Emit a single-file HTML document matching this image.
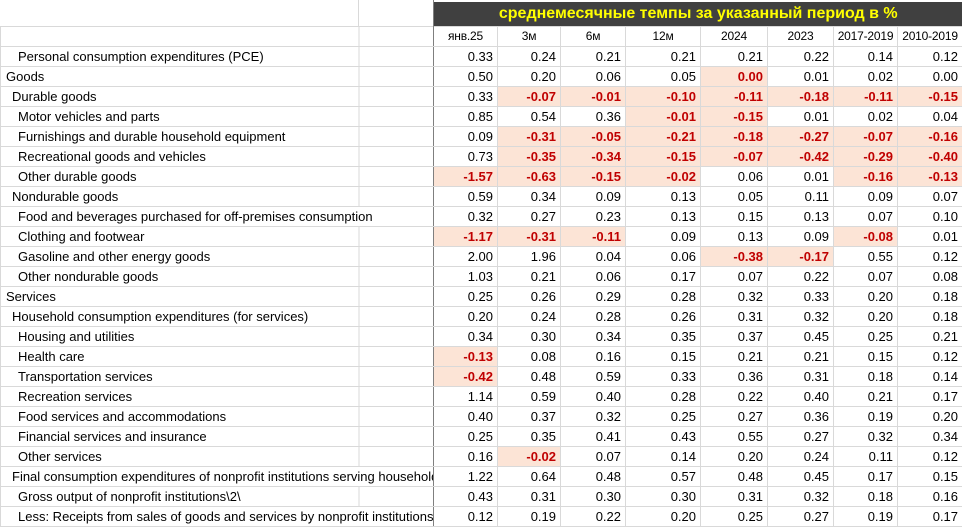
<!DOCTYPE html>
<html><head><meta charset="utf-8"><style>
body{margin:0;width:962px;height:529px;overflow:hidden;background:#fff;font-family:"Liberation Sans",sans-serif;font-size:13px;color:#000}
table{border-collapse:collapse;table-layout:fixed;position:absolute;left:0;top:0;width:962px}
td{height:19px;padding:0 4px;border:1px solid #d9d9d9;white-space:nowrap;overflow:hidden;text-align:right;line-height:19px}
td.l{text-align:left;padding:0;border-right:1px solid #7f7f7f;max-width:433px}
td.l.g{background:linear-gradient(to right,transparent 357px,#d9d9d9 357px,#d9d9d9 358px,transparent 358px)}
tr.h1 td{height:26px;border:none}
tr.h1 td.t{background:#404040;color:#ffff00;font-weight:bold;font-size:16px;text-align:center;box-shadow:inset 0 2px 0 #fff;overflow:visible}
tr.h2 td{text-align:center;padding:0;font-size:12px;letter-spacing:-0.2px}
td.p{background:#fce4d6;color:#c00000;font-weight:bold}
</style></head><body>
<table>
<colgroup><col style="width:433px"><col style="width:64px"><col style="width:63px"><col style="width:65px"><col style="width:75px"><col style="width:67px"><col style="width:66px"><col style="width:64px"><col style="width:65px"></colgroup>
<tr class="h1"><td class="l g" style="border-right:1px solid #7f7f7f"></td><td class="t" colspan="8">среднемесячные темпы за указанный период в %</td></tr>
<tr class="h2"><td class="l g"></td><td>янв.25</td><td>3м</td><td>6м</td><td>12м</td><td>2024</td><td>2023</td><td>2017-2019</td><td>2010-2019</td></tr>
<tr><td class="l g" style="padding-left:17px">Personal consumption expenditures (PCE)</td><td>0.33</td><td>0.24</td><td>0.21</td><td>0.21</td><td>0.21</td><td>0.22</td><td>0.14</td><td>0.12</td></tr>
<tr><td class="l g" style="padding-left:5px">Goods</td><td>0.50</td><td>0.20</td><td>0.06</td><td>0.05</td><td class="p">0.00</td><td>0.01</td><td>0.02</td><td>0.00</td></tr>
<tr><td class="l g" style="padding-left:11px">Durable goods</td><td>0.33</td><td class="p">-0.07</td><td class="p">-0.01</td><td class="p">-0.10</td><td class="p">-0.11</td><td class="p">-0.18</td><td class="p">-0.11</td><td class="p">-0.15</td></tr>
<tr><td class="l g" style="padding-left:17px">Motor vehicles and parts</td><td>0.85</td><td>0.54</td><td>0.36</td><td class="p">-0.01</td><td class="p">-0.15</td><td>0.01</td><td>0.02</td><td>0.04</td></tr>
<tr><td class="l g" style="padding-left:17px">Furnishings and durable household equipment</td><td>0.09</td><td class="p">-0.31</td><td class="p">-0.05</td><td class="p">-0.21</td><td class="p">-0.18</td><td class="p">-0.27</td><td class="p">-0.07</td><td class="p">-0.16</td></tr>
<tr><td class="l g" style="padding-left:17px">Recreational goods and vehicles</td><td>0.73</td><td class="p">-0.35</td><td class="p">-0.34</td><td class="p">-0.15</td><td class="p">-0.07</td><td class="p">-0.42</td><td class="p">-0.29</td><td class="p">-0.40</td></tr>
<tr><td class="l g" style="padding-left:17px">Other durable goods</td><td class="p">-1.57</td><td class="p">-0.63</td><td class="p">-0.15</td><td class="p">-0.02</td><td>0.06</td><td>0.01</td><td class="p">-0.16</td><td class="p">-0.13</td></tr>
<tr><td class="l g" style="padding-left:11px">Nondurable goods</td><td>0.59</td><td>0.34</td><td>0.09</td><td>0.13</td><td>0.05</td><td>0.11</td><td>0.09</td><td>0.07</td></tr>
<tr><td class="l" style="padding-left:17px">Food and beverages purchased for off-premises consumption</td><td>0.32</td><td>0.27</td><td>0.23</td><td>0.13</td><td>0.15</td><td>0.13</td><td>0.07</td><td>0.10</td></tr>
<tr><td class="l g" style="padding-left:17px">Clothing and footwear</td><td class="p">-1.17</td><td class="p">-0.31</td><td class="p">-0.11</td><td>0.09</td><td>0.13</td><td>0.09</td><td class="p">-0.08</td><td>0.01</td></tr>
<tr><td class="l g" style="padding-left:17px">Gasoline and other energy goods</td><td>2.00</td><td>1.96</td><td>0.04</td><td>0.06</td><td class="p">-0.38</td><td class="p">-0.17</td><td>0.55</td><td>0.12</td></tr>
<tr><td class="l g" style="padding-left:17px">Other nondurable goods</td><td>1.03</td><td>0.21</td><td>0.06</td><td>0.17</td><td>0.07</td><td>0.22</td><td>0.07</td><td>0.08</td></tr>
<tr><td class="l g" style="padding-left:5px">Services</td><td>0.25</td><td>0.26</td><td>0.29</td><td>0.28</td><td>0.32</td><td>0.33</td><td>0.20</td><td>0.18</td></tr>
<tr><td class="l g" style="padding-left:11px">Household consumption expenditures (for services)</td><td>0.20</td><td>0.24</td><td>0.28</td><td>0.26</td><td>0.31</td><td>0.32</td><td>0.20</td><td>0.18</td></tr>
<tr><td class="l g" style="padding-left:17px">Housing and utilities</td><td>0.34</td><td>0.30</td><td>0.34</td><td>0.35</td><td>0.37</td><td>0.45</td><td>0.25</td><td>0.21</td></tr>
<tr><td class="l g" style="padding-left:17px">Health care</td><td class="p">-0.13</td><td>0.08</td><td>0.16</td><td>0.15</td><td>0.21</td><td>0.21</td><td>0.15</td><td>0.12</td></tr>
<tr><td class="l g" style="padding-left:17px">Transportation services</td><td class="p">-0.42</td><td>0.48</td><td>0.59</td><td>0.33</td><td>0.36</td><td>0.31</td><td>0.18</td><td>0.14</td></tr>
<tr><td class="l g" style="padding-left:17px">Recreation services</td><td>1.14</td><td>0.59</td><td>0.40</td><td>0.28</td><td>0.22</td><td>0.40</td><td>0.21</td><td>0.17</td></tr>
<tr><td class="l g" style="padding-left:17px">Food services and accommodations</td><td>0.40</td><td>0.37</td><td>0.32</td><td>0.25</td><td>0.27</td><td>0.36</td><td>0.19</td><td>0.20</td></tr>
<tr><td class="l g" style="padding-left:17px">Financial services and insurance</td><td>0.25</td><td>0.35</td><td>0.41</td><td>0.43</td><td>0.55</td><td>0.27</td><td>0.32</td><td>0.34</td></tr>
<tr><td class="l g" style="padding-left:17px">Other services</td><td>0.16</td><td class="p">-0.02</td><td>0.07</td><td>0.14</td><td>0.20</td><td>0.24</td><td>0.11</td><td>0.12</td></tr>
<tr><td class="l" style="padding-left:11px">Final consumption expenditures of nonprofit institutions serving households</td><td>1.22</td><td>0.64</td><td>0.48</td><td>0.57</td><td>0.48</td><td>0.45</td><td>0.17</td><td>0.15</td></tr>
<tr><td class="l g" style="padding-left:17px">Gross output of nonprofit institutions\2\</td><td>0.43</td><td>0.31</td><td>0.30</td><td>0.30</td><td>0.31</td><td>0.32</td><td>0.18</td><td>0.16</td></tr>
<tr><td class="l" style="padding-left:17px">Less: Receipts from sales of goods and services by nonprofit institutions</td><td>0.12</td><td>0.19</td><td>0.22</td><td>0.20</td><td>0.25</td><td>0.27</td><td>0.19</td><td>0.17</td></tr>
</table>
</body></html>
